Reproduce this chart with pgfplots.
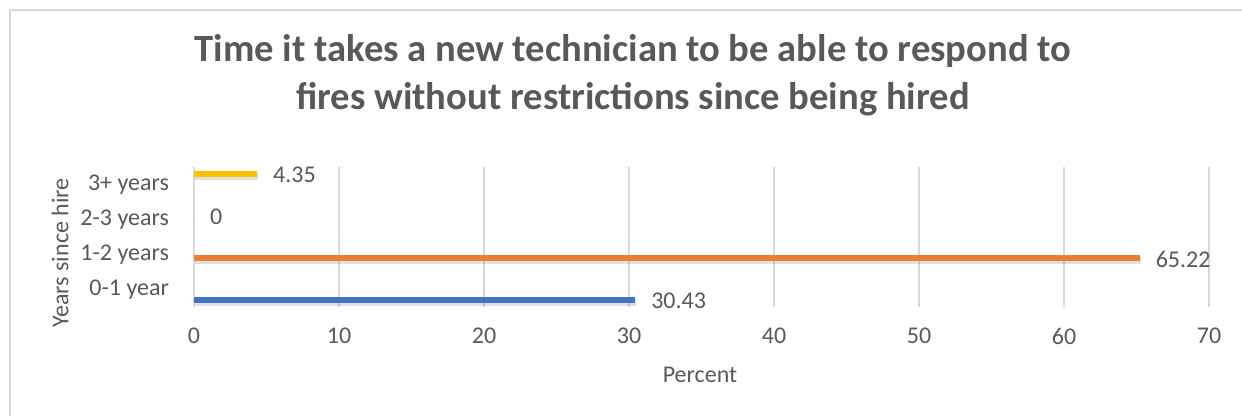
\documentclass[border=0pt]{standalone}
\usepackage{fontspec}
\setmainfont{Carlito}
\usepackage{pgfplots}
\pgfplotsset{compat=1.18}

\definecolor{txt}{HTML}{595959}
\definecolor{gridc}{HTML}{D9D9D9}
\definecolor{frame}{HTML}{D9D9D9}
\definecolor{cBlue}{HTML}{4472C4}
\definecolor{cOrange}{HTML}{ED7D31}
\definecolor{cGray}{HTML}{A5A5A5}
\definecolor{cYellow}{HTML}{FFC000}

\newcommand{\lbl}{\fontsize{12}{14.4}\selectfont}

\begin{document}
\begin{tikzpicture}
  % page extent and chart frame
  \useasboundingbox (0,0) rectangle (621pt,208pt);
  \draw[frame, line width=1pt] (5pt,-2pt) -- (5pt,203pt) -- (623pt,203pt);

  % title
  \node[anchor=base, text=txt, font=\fontsize{19.3}{23}\selectfont\bfseries]
    at (316.5pt,177pt) {Time it takes a new technician to be able to respond to};
  \node[anchor=base, text=txt, font=\fontsize{19.3}{23}\selectfont\bfseries]
    at (316.5pt,153pt) {fires without restrictions since being hired};

  \begin{axis}[
    at={(97pt,54.5pt)}, anchor=south west,
    scale only axis, width=507.5pt, height=70pt,
    xbar, bar width=3.2pt, bar shift=0pt,
    xmin=0, xmax=70, ymin=-0.5, ymax=3.5,
    xtick={0,10,...,70},
    ytick={0,1,2,3},
    yticklabels={0-1 year,1-2 years,2-3 years,3+ years},
    major tick length=0pt,
    axis line style={draw=none},
    xmajorgrids, grid style={gridc, line width=0.8pt},
    /pgf/number format/assume math mode=true,
    tick label style={text=txt, font=\lbl},
    xticklabel style={yshift=-7pt},
    yticklabel style={xshift=-9pt},
    xlabel={Percent},
    ylabel={Years since hire},
    label style={text=txt, font=\lbl},
    xlabel style={at={(axis description cs:0.4985,-0.486)}, anchor=center},
    ylabel style={at={(axis description cs:-0.132,0.386)}, anchor=center, rotate=0},
    nodes near coords,
    point meta=x,
    /pgf/number format/.cd, fixed, precision=2,
    /pgfplots/.cd,
    every node near coord/.append style={anchor=west, text=txt, font=\lbl, xshift=4.5pt, yshift=-0.5pt},
    every axis plot/.append style={draw=none,
      preaction={fill=black, fill opacity=0.12, draw=none,
        transform canvas={xshift=0.6pt, yshift=-1.2pt}}},
  ]
    \addplot[fill=cBlue]   coordinates {(30.43,-0.3)};
    \addplot[fill=cOrange] coordinates {(65.22,0.9)};
    \addplot[fill=cGray]   coordinates {(0,2.1)};
    \addplot[fill=cYellow] coordinates {(4.35,3.3)};
  \end{axis}
\end{tikzpicture}
\end{document}
